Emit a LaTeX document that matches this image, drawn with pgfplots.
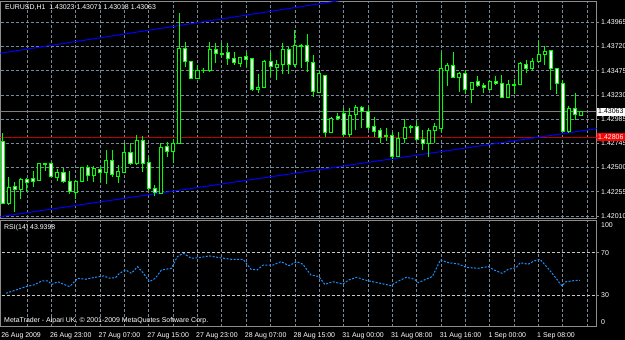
\documentclass[border=0pt]{standalone}
\usepackage{pgfplots}
\pgfplotsset{compat=1.18}
\usepackage{pgfplotstable}
\usepackage{fontspec}
\setmainfont{Liberation Sans}
\definecolor{mtgrid}{RGB}{119,136,153}
\definecolor{mtframe}{RGB}{140,140,140}
\definecolor{mtrsi}{RGB}{30,144,255}
\definecolor{mtred}{RGB}{190,0,0}
\definecolor{mtlime}{RGB}{0,255,0}
\definecolor{mtblue}{RGB}{0,0,255}
\definecolor{mtlevel}{RGB}{200,200,200}
\newcommand{\mt}{\fontsize{7}{8}\selectfont}

\pgfplotstableread{
i o h l c
0 1.42759 1.42850 1.42131 1.42138
1 1.42138 1.42404 1.42121 1.42300
2 1.42306 1.42356 1.42054 1.42280
3 1.42280 1.42393 1.42179 1.42380
4 1.42380 1.42393 1.42252 1.42350
5 1.42390 1.42464 1.42306 1.42356
6 1.42373 1.42545 1.42368 1.42542
7 1.42542 1.42545 1.42464 1.42532
8 1.42542 1.42555 1.42404 1.42407
9 1.42396 1.42481 1.42363 1.42447
10 1.42447 1.42491 1.42343 1.42356
11 1.42356 1.42464 1.42232 1.42255
12 1.42252 1.42373 1.42179 1.42356
13 1.42356 1.42507 1.42353 1.42501
14 1.42501 1.42525 1.42363 1.42417
15 1.42417 1.42517 1.42356 1.42494
16 1.42484 1.42517 1.42356 1.42451
17 1.42451 1.42676 1.42333 1.42568
18 1.42565 1.42676 1.42407 1.42424
19 1.42407 1.42525 1.42346 1.42457
20 1.42447 1.42743 1.42441 1.42649
21 1.42649 1.42743 1.42525 1.42542
22 1.42535 1.42827 1.42525 1.42770
23 1.42770 1.42817 1.42457 1.42542
24 1.42552 1.42608 1.42272 1.42290
25 1.42290 1.42323 1.42212 1.42245
26 1.42239 1.42743 1.42232 1.42703
27 1.42709 1.42759 1.42608 1.42659
28 1.42659 1.42784 1.42548 1.42743
29 1.42743 1.44054 1.42736 1.43701
30 1.43701 1.43768 1.43516 1.43566
31 1.43566 1.43573 1.43392 1.43399
32 1.43399 1.43533 1.43392 1.43475
33 1.43477 1.43499 1.43455 1.43482
34 1.43475 1.43768 1.43465 1.43684
35 1.43684 1.43758 1.43556 1.43644
36 1.43649 1.43758 1.43616 1.43641
37 1.43657 1.43751 1.43533 1.43600
38 1.43596 1.43667 1.43533 1.43556
39 1.43550 1.43616 1.43516 1.43610
40 1.43623 1.43667 1.43516 1.43593
41 1.43600 1.43603 1.43274 1.43281
42 1.43281 1.43442 1.43247 1.43308
43 1.43308 1.43583 1.43298 1.43566
44 1.43566 1.43667 1.43415 1.43516
45 1.43505 1.43583 1.43381 1.43540
46 1.43533 1.43751 1.43442 1.43694
47 1.43694 1.43717 1.43442 1.43533
48 1.43533 1.43886 1.43516 1.43734
49 1.43734 1.43744 1.43499 1.43724
50 1.43734 1.43842 1.43465 1.43566
51 1.43560 1.43634 1.43207 1.43264
52 1.43253 1.43475 1.43247 1.43442
53 1.43429 1.43429 1.42804 1.42850
54 1.42850 1.43011 1.42844 1.42995
55 1.43018 1.43052 1.42978 1.42995
56 1.43046 1.43096 1.42804 1.42827
57 1.42827 1.43096 1.42810 1.43026
58 1.43029 1.43129 1.42877 1.43106
59 1.43106 1.43119 1.42895 1.43062
60 1.43062 1.43112 1.42877 1.42905
61 1.42911 1.43005 1.42804 1.42860
62 1.42870 1.42895 1.42749 1.42804
63 1.42817 1.42895 1.42770 1.42810
64 1.42817 1.42860 1.42582 1.42615
65 1.42615 1.42860 1.42608 1.42794
66 1.42794 1.42985 1.42743 1.42901
67 1.42898 1.42925 1.42850 1.42911
68 1.42911 1.42971 1.42770 1.42777
69 1.42777 1.42877 1.42676 1.42743
70 1.42743 1.42895 1.42608 1.42877
71 1.42870 1.42945 1.42743 1.42911
72 1.42895 1.43667 1.42860 1.43499
73 1.43475 1.43550 1.43321 1.43523
74 1.43523 1.43667 1.43400 1.43409
75 1.43405 1.43465 1.43264 1.43449
76 1.43449 1.43482 1.43240 1.43281
77 1.43288 1.43364 1.43147 1.43354
78 1.43364 1.43422 1.43308 1.43321
79 1.43321 1.43348 1.43247 1.43304
80 1.43288 1.43381 1.43281 1.43364
81 1.43364 1.43422 1.43331 1.43348
82 1.43348 1.43432 1.43197 1.43207
83 1.43207 1.43381 1.43197 1.43341
84 1.43331 1.43389 1.43240 1.43341
85 1.43341 1.43566 1.43331 1.43550
86 1.43540 1.43583 1.43449 1.43499
87 1.43499 1.43600 1.43482 1.43573
88 1.43566 1.43775 1.43550 1.43634
89 1.43634 1.43727 1.43533 1.43667
90 1.43674 1.43674 1.43281 1.43499
91 1.43499 1.43499 1.43240 1.43348
92 1.43348 1.43381 1.42860 1.42867
93 1.42867 1.43119 1.42850 1.43096
94 1.43096 1.43247 1.42978 1.43029
95 1.43023 1.43071 1.43018 1.43063
}\candles

\pgfplotstableread{
x r
0.55 31.6
2.19 34.7
3.83 37.9
5.13 39.5
6.44 43.2
7.43 43.2
8.08 40.0
9.06 42.5
10.04 40.0
11.02 37.9
12.34 45.8
13.64 44.8
14.95 46.4
16.59 48.0
17.57 45.8
18.55 46.4
19.20 50.5
20.19 53.6
21.17 50.5
22.15 56.8
23.13 50.5
24.10 42.5
25.09 45.8
26.08 53.6
27.72 55.2
28.70 66.2
29.68 69.4
30.99 64.7
32.30 65.3
33.93 66.9
35.57 65.3
37.54 63.7
39.50 63.7
40.80 54.2
41.79 53.6
42.77 58.3
44.40 58.3
45.71 61.5
47.03 57.7
48.33 61.5
49.31 59.0
50.62 48.9
51.93 47.4
52.91 40.0
54.22 42.5
55.86 40.3
56.84 44.2
58.15 46.7
59.46 44.2
60.77 42.5
62.07 41.0
63.71 38.8
65.02 43.2
66.33 46.7
67.64 44.8
68.29 41.6
69.60 45.1
70.58 47.4
71.89 63.1
73.20 60.5
74.83 59.3
76.14 56.1
78.11 55.2
79.74 56.8
80.72 53.6
82.03 50.5
83.02 54.2
84.32 55.8
84.98 60.5
86.29 59.0
87.27 62.1
88.25 63.7
89.56 55.2
90.87 45.8
91.85 38.5
92.50 42.5
93.82 43.5
94.80 43.9
}\rsidata

\begin{document}
\begin{tikzpicture}
\fill[black] (0,0) rectangle (625bp,340bp);

\begin{axis}[
  at={(0.5bp,121.5bp)}, anchor=south west, scale only axis,
  width=596bp, height=217bp,
  xmin=-0.345, xmax=97.52, ymin=1.41985, ymax=1.44173,
  axis line style={mtframe, line width=1bp},
  xtick={4,8,...,96}, xticklabels={}, xtick style={draw=none},
  xmajorgrids, ymajorgrids,
  major grid style={mtgrid, dash pattern=on 3bp off 2bp, line width=0.8bp},
  scaled y ticks=false,
  ytick={1.42010,1.42255,1.42500,1.42745,1.42985,1.43230,1.43475,1.43720,1.43965},
  yticklabels={1.42010,1.42255,1.42500,1.42745,1.42985,1.43230,1.43475,1.43720,1.43965},
  ytick pos=right, yticklabel pos=right,
  tick align=outside, major tick length=2.5bp,
  ytick style={mtframe, line width=0.8bp},
  yticklabel style={anchor=west, inner sep=0pt, xshift=2bp, font=\mt, text=white},
  clip mode=individual,
]
\addplot[color={rgb,255:red,128;green,128;blue,128}, line width=1.6bp] coordinates {(-1,1.43063) (99,1.43063)};
\addplot[mtred, line width=0.9bp] coordinates {(-1,1.42806) (99,1.42806)};
\addplot[mtblue, line width=1bp] coordinates {(-1,1.43645) (57.05,1.44198)};
\addplot[mtblue, line width=1bp] coordinates {(-1,1.41998) (98,1.42895)};

\pgfplotsinvokeforeach{0,...,95}{
  \pgfplotstablegetelem{#1}{o}\of\candles \let\vo\pgfplotsretval
  \pgfplotstablegetelem{#1}{h}\of\candles \let\vh\pgfplotsretval
  \pgfplotstablegetelem{#1}{l}\of\candles \let\vl\pgfplotsretval
  \pgfplotstablegetelem{#1}{c}\of\candles \let\vc\pgfplotsretval
  \pgfmathsetmacro\xa{#1-0.25}
  \pgfmathsetmacro\xb{#1+0.25}
  \edef\doplot{\noexpand\addplot[mtlime, line width=1bp] coordinates {(#1,\vl) (#1,\vh)};}\doplot
  \ifdim\vc pt>\vo pt
    \edef\doplot{\noexpand\addplot[draw=mtlime, fill=black, line width=1bp] coordinates {(\xa,\vo) (\xb,\vo) (\xb,\vc) (\xa,\vc)} -- cycle;}\doplot
  \else
    \edef\doplot{\noexpand\addplot[draw=mtlime, fill=white, line width=1bp] coordinates {(\xa,\vo) (\xb,\vo) (\xb,\vc) (\xa,\vc)} -- cycle;}\doplot
  \fi
}

\node[fill=white, text=black, font=\mt, anchor=west, inner xsep=1.5bp, inner ysep=1bp, minimum height=8bp] at (axis cs:97.52,1.43063) {1.43063};
\node[fill=red, text=white, font=\mt, anchor=west, inner xsep=1.5bp, inner ysep=1bp, minimum height=8bp] at (axis cs:97.52,1.42806) {1.42806};
\end{axis}

\begin{axis}[
  at={(0.5bp,13.3bp)}, anchor=south west, scale only axis,
  width=596bp, height=105.8bp,
  xmin=-0.345, xmax=97.52, ymin=0, ymax=100,
  axis line style={mtframe, line width=1bp},
  xtick={4,8,...,96}, xticklabels={}, xtick style={draw=none},
  xmajorgrids,
  major grid style={mtgrid, dash pattern=on 3bp off 2bp, line width=0.8bp},
  extra x ticks={0,8,...,88},
  extra x tick labels={26 Aug 2009,26 Aug 23:00,27 Aug 07:00,27 Aug 15:00,27 Aug 23:00,28 Aug 07:00,28 Aug 15:00,31 Aug 00:00,31 Aug 08:00,31 Aug 16:00,1 Sep 00:00,1 Sep 08:00},
  extra x tick style={grid=none, xticklabel style={anchor=west, inner sep=0pt, yshift=-7bp, xshift=-1.5bp, font=\mt, text=white}},
  ytick={30,70}, yticklabels={30,70},
  ytick pos=right, yticklabel pos=right,
  tick align=outside, major tick length=2.5bp,
  ytick style={mtframe, line width=0.8bp},
  yticklabel style={anchor=west, inner sep=0pt, xshift=2bp, font=\mt, text=white},
  clip mode=individual,
]
\addplot[mtlevel, dash pattern=on 3bp off 2bp, line width=0.8bp] coordinates {(-1,70) (99,70)};
\addplot[mtlevel, dash pattern=on 3bp off 2bp, line width=0.8bp] coordinates {(-1,30) (99,30)};
\addplot[mtrsi, line width=1bp, dash pattern=on 2bp off 1.5bp] table[x=x, y=r] {\rsidata};
\node[text=white, font=\mt, anchor=north west, inner sep=0pt, xshift=4.5bp, yshift=-1.5bp] at (axis cs:97.52,100) {100};
\node[text=white, font=\mt, anchor=south west, inner sep=0pt, xshift=4.5bp, yshift=1.5bp] at (axis cs:97.52,0) {0};
\end{axis}

\node[text=white, font=\mt, anchor=west, inner sep=0pt] at (5bp,332bp) {EURUSD,H1\ \ 1.43023 1.43071 1.43018 1.43063};
\node[text=white, font=\mt, anchor=west, inner sep=0pt] at (4bp,112bp) {RSI(14) 43.9398};
\node[text=white, font=\mt, anchor=west, inner sep=0pt] at (4bp,19bp) {MetaTrader - Alpari UK, © 2001-2009 MetaQuotes Software Corp.};

\pgfresetboundingbox
\path (0,0) rectangle (625bp,340bp);
\end{tikzpicture}
\end{document}
